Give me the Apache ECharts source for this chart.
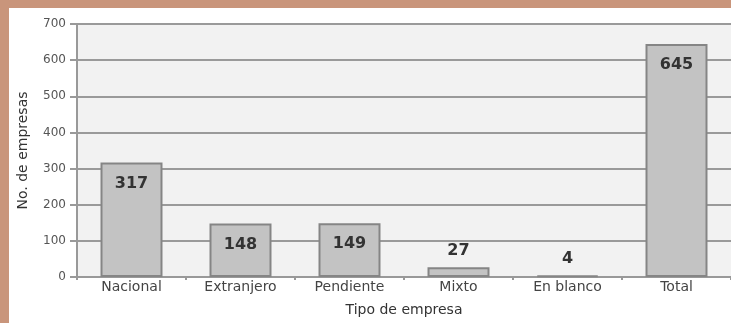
<!DOCTYPE html>
<html><head><meta charset="utf-8">
<script src="https://cdn.jsdelivr.net/npm/echarts@6/dist/echarts.min.js"></script>
<style>
html,body{margin:0;padding:0;width:731px;height:323px;overflow:hidden;background:#c9957b;}
#wrap{position:absolute;left:9px;top:8px;width:722px;height:315px;background:#ffffff;}
#c{position:absolute;left:0;top:0;width:731px;height:323px;}
</style></head>
<body>
<div id="wrap"></div>
<div id="c"></div>
<script>
var categories = ['Nacional','Extranjero','Pendiente','Mixto','En blanco','Total'];
var values = [317, 148, 149, 27, 4, 645];
var insideLabel = [true, true, true, false, false, true];
var yTicks = [0,100,200,300,400,500,600,700];

var FONT = 'DejaVu Sans';
var chart = echarts.init(document.getElementById('c'), null, {renderer:'canvas'});
var data = values.map(function(v,i){
  return {
    value: v,
    label: insideLabel[i] ? {position:'insideTop', distance: 13} : {position:'top', distance: 8}
  };
});
chart.setOption({
  backgroundColor: 'transparent',
  animation: false,
  grid: {left: 77, right: -4, top: 24, bottom: 46, show: true, backgroundColor: '#f2f2f2', borderWidth: 0},
  xAxis: {
    type: 'category', data: categories,
    name: 'Tipo de empresa', nameLocation: 'middle', nameGap: 26,
    nameTextStyle: {fontFamily: FONT, fontSize: 14, color: '#333'},
    axisLine: {lineStyle: {color: '#999', width: 2}},
    axisTick: {show: true, length: 3, lineStyle: {color: '#999', width: 2}},
    axisLabel: {interval: 0, fontFamily: FONT, fontSize: 14, color: '#444', margin: 3}
  },
  yAxis: {
    type: 'value', min: 0, max: 700, interval: 100,
    name: 'No. de empresas', nameLocation: 'middle', nameGap: 47, nameRotate: 90,
    nameTextStyle: {fontFamily: FONT, fontSize: 14, color: '#333'},
    axisLine: {show: true, lineStyle: {color: '#999', width: 2}},
    axisTick: {show: true, length: 7, lineStyle: {color: '#999', width: 2}},
    splitLine: {lineStyle: {color: '#9a9a9a', width: 2}},
    axisLabel: {fontFamily: FONT, fontSize: 12, color: '#555', margin: 11,
      formatter: function(v){ return yTicks.indexOf(v) >= 0 ? String(v) : ''; }}
  },
  series: [{
    type: 'bar', data: data, barWidth: 62,
    itemStyle: {color: '#c3c3c3', borderColor: '#858585', borderWidth: 2},
    label: {show: true, fontFamily: FONT, fontSize: 16, fontWeight: 'bold', color: '#333'}
  }]
});
</script>
</body></html>
